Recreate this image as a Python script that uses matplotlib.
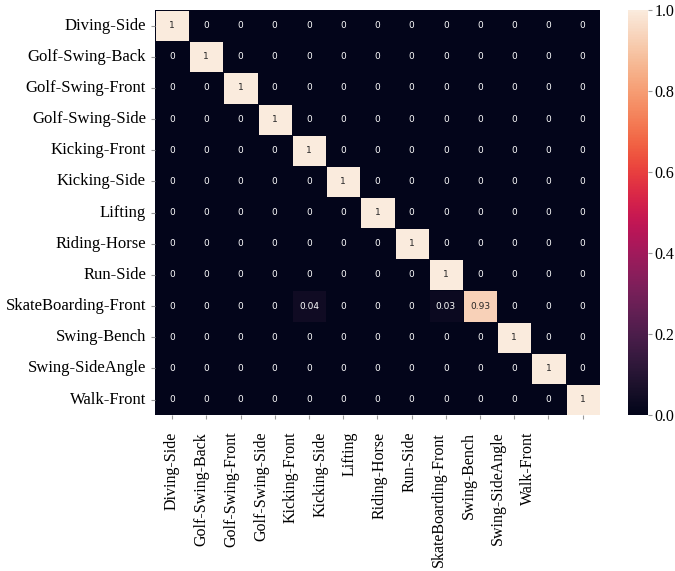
import numpy as np
import matplotlib
matplotlib.use('Agg')
import matplotlib.pyplot as plt
import seaborn as sns

# Action classes
classes = ['Diving-Side', 'Golf-Swing-Back', 'Golf-Swing-Front', 'Golf-Swing-Side',
           'Kicking-Front', 'Kicking-Side', 'Lifting', 'Riding-Horse', 'Run-Side',
           'SkateBoarding-Front', 'Swing-Bench', 'Swing-SideAngle', 'Walk-Front']

# Normalised confusion matrix (rows = true, cols = predicted)
cm = np.eye(len(classes))
skate_row = [0, 0, 0, 0, 0.04, 0, 0, 0, 0.03, 0.93, 0, 0, 0]
cm[9] = skate_row

fig = plt.figure(figsize=(6.75, 5.71), dpi=100)
ax = fig.add_axes([0.2296, 0.273, 0.659, 0.7093])
cax = fig.add_axes([0.930, 0.273, 0.0296, 0.7093])

# cell borders in the colormap's darkest shade so only the light cells show an outline
sns.heatmap(cm, annot=True, fmt='.2g', cmap='rocket', vmin=0, vmax=1,
            annot_kws={'size': 6.5}, ax=ax, cbar_ax=cax,
            linewidths=0.5, linecolor='#03051A')

serif = {'family': 'Liberation Serif', 'size': 12}
serif_x = {'family': 'Liberation Serif', 'size': 11.5}
serif_c = {'family': 'Liberation Serif', 'size': 11.5}

# tick marks at cell centres, labels spaced a bit tighter along x
n = len(classes)
ax.xaxis.remove_overlapping_locs = False
ax.set_xticks(np.arange(n) + 0.5)
ax.set_xticklabels([])
ax.set_xticks(0.5 + 0.866 * np.arange(n), minor=True)
ax.set_xticklabels(classes, minor=True, rotation=90, fontdict=serif_x)
ax.tick_params(axis='x', which='minor', length=0, pad=12)
ax.tick_params(axis='x', which='major', length=3, color='#999999')

ax.set_yticks(np.arange(n) + 0.5)
ax.set_yticklabels(classes, rotation=0, fontdict=serif)
ax.tick_params(axis='y', length=3, color='#999999')

cax.set_yticks([0.0, 0.2, 0.4, 0.6, 0.8, 1.0])
cax.set_yticklabels(['0.0', '0.2', '0.4', '0.6', '0.8', '1.0'], fontdict=serif_c)
cax.tick_params(length=3, pad=2, color='#999999')

fig.savefig('out.png', dpi=100)
